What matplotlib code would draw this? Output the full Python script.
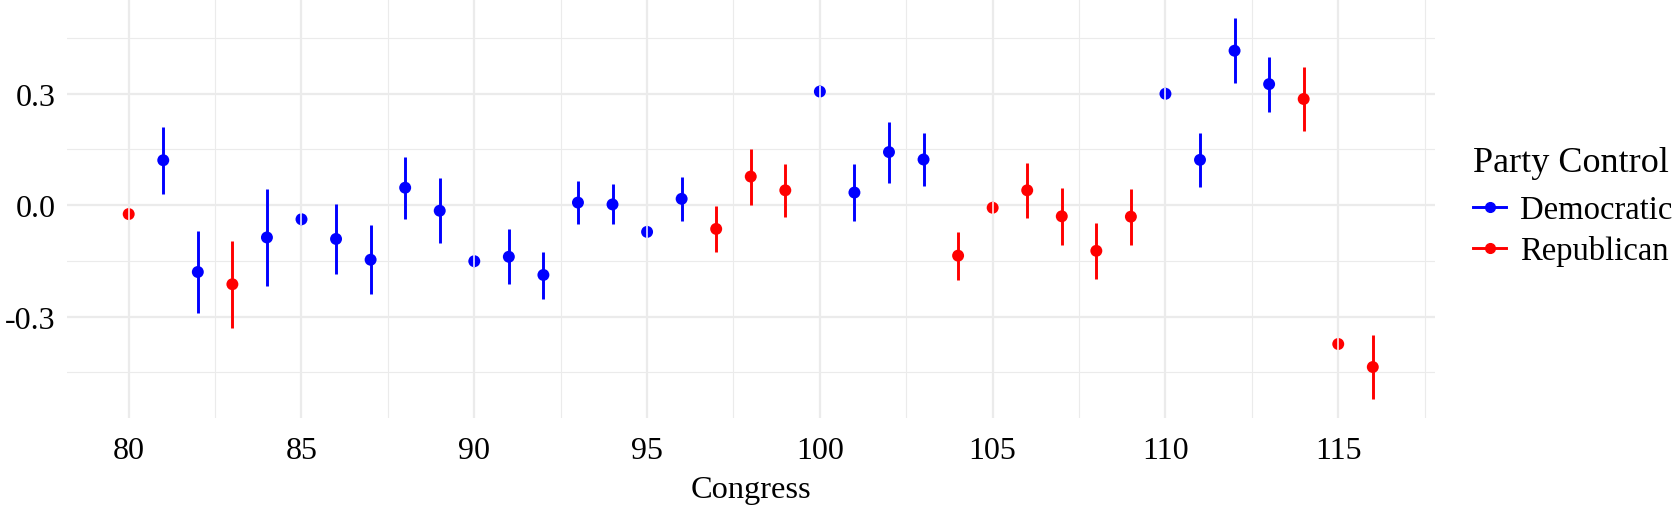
import numpy as np
import matplotlib
matplotlib.use("Agg")
import matplotlib.pyplot as plt
from matplotlib.lines import Line2D

congress = list(range(80, 117))
party = ["R", "D", "D", "R", "D", "D", "D", "D", "D", "D", "D", "D", "D",
         "D", "D", "D", "D", "R", "R", "R", "D", "D", "D", "D", "R", "R",
         "R", "R", "R", "R", "D", "D", "D", "D", "R", "R", "R"]
estimate = [-0.024, 0.121, -0.180, -0.213, -0.087, -0.038, -0.091, -0.147, 0.047,
            -0.015, -0.151, -0.139, -0.188, 0.007, 0.002, -0.072, 0.017, -0.064,
            0.077, 0.040, 0.306, 0.034, 0.143, 0.123, -0.136, -0.007, 0.040,
            -0.030, -0.123, -0.031, 0.300, 0.122, 0.416, 0.326, 0.286, -0.374, -0.436]
nan = np.nan
lower = [nan, 0.030, -0.290, -0.331, -0.219, nan, -0.186, -0.240, -0.038,
         -0.103, nan, -0.213, -0.252, -0.051, -0.051, nan, -0.043, -0.127,
         0.001, -0.031, nan, -0.043, 0.061, 0.051, -0.201, nan, -0.035,
         -0.108, -0.198, -0.108, nan, 0.049, 0.329, 0.250, 0.200, nan, -0.522]
upper = [nan, 0.211, -0.070, -0.096, 0.044, nan, 0.002, -0.053, 0.130,
         0.072, nan, -0.063, -0.126, 0.064, 0.056, nan, 0.076, -0.002,
         0.152, 0.112, nan, 0.111, 0.225, 0.194, -0.073, nan, 0.114,
         0.047, -0.049, 0.044, nan, 0.195, 0.504, 0.400, 0.373, nan, -0.351]
party_names = {"D": "Democratic", "R": "Republican"}
party_colors = {"D": "#0000FF", "R": "#FF0000"}
y_ticks = [-0.3, 0.0, 0.3]
y_tick_labels = ["-0.3", "0.0", "0.3"]
x_ticks = [80, 85, 90, 95, 100, 105, 110, 115]

plt.rcParams["font.family"] = ["Liberation Serif", "DejaVu Serif"]

W, H = 1679, 510
fig = plt.figure(figsize=(W / 100, H / 100), dpi=100)
ax = fig.add_axes([66.5 / W, 1 - 419 / H, (1435 - 66.5) / W, 419 / H])

x = np.array(congress, dtype=float)
est = np.array(estimate)
lo = np.array(lower)
hi = np.array(upper)
cols = np.array([party_colors[p] for p in party])

msize = 8.6
has_ci = ~np.isnan(lo)
ax.vlines(x[has_ci], lo[has_ci], hi[has_ci], colors=cols[has_ci], linewidth=2.1, zorder=3)
ax.scatter(x, est, s=msize ** 2, c=cols, edgecolors="none", zorder=4)
no_ci = ~has_ci
ax.scatter(x[no_ci], est[no_ci], s=msize ** 2, marker="|", c="white", linewidths=1.1, zorder=5)

# limits with ggplot-like 5% expansion
ymin, ymax = np.nanmin(lo), np.nanmax(hi)
yr = ymax - ymin
ax.set_ylim(ymin - 0.05 * yr, ymax + 0.05 * yr)
xr = x.max() - x.min()
ax.set_xlim(x.min() - 0.05 * xr, x.max() + 0.05 * xr)

ax.set_yticks(y_ticks)
ax.set_yticklabels(y_tick_labels)
ax.set_yticks([-0.45, -0.15, 0.15, 0.45], minor=True)
ax.set_xticks(x_ticks)
ax.set_xticks(np.arange(82.5, 118, 5), minor=True)

ax.grid(which="major", color="#EBEBEB", linewidth=1.6, zorder=0)
ax.grid(which="minor", color="#EBEBEB", linewidth=0.8, zorder=0)
ax.set_axisbelow(True)
for s in ax.spines.values():
    s.set_visible(False)
ax.tick_params(which="both", length=0)
ax.tick_params(axis="x", labelsize=23, pad=13.3, labelcolor="black")
ax.tick_params(axis="y", labelsize=23, pad=7.8, labelcolor="black")
ax.set_xlabel("Congress", fontsize=23.3, labelpad=7)

handles = [Line2D([], [], color=party_colors[k], marker="o", markersize=7,
                  linewidth=2.1, label=party_names[k]) for k in ["D", "R"]]
leg = fig.legend(handles=handles, title="Party Control", loc="upper left",
                 bbox_to_anchor=(1473 / W, 1 - 147 / H), frameon=False,
                 fontsize=23.5, title_fontsize=26, handlelength=1.02,
                 handletextpad=0.43, labelspacing=0.3, borderpad=0,
                 borderaxespad=0, alignment="left")
leg._legend_box.sep = 11.4

fig.savefig("out.png", dpi=100)
